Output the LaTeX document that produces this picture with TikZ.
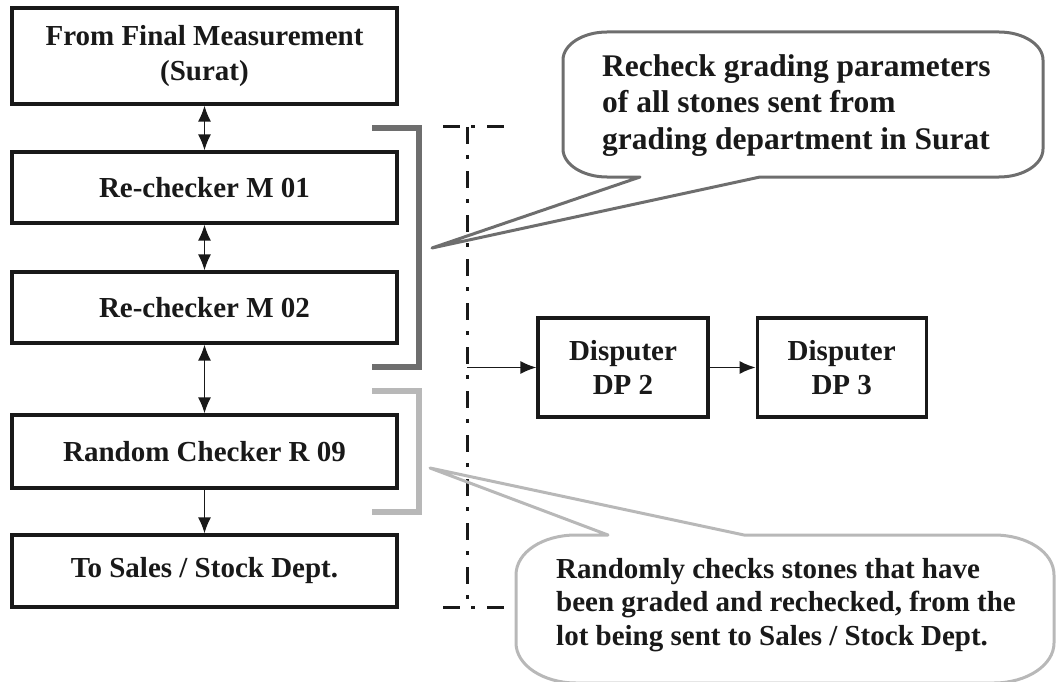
\documentclass[tikz,border=0pt]{standalone}
\usepackage{fontspec}
\setmainfont{Liberation Serif}
\usetikzlibrary{positioning,arrows.meta}
\definecolor{ink}{gray}{0.1}
\definecolor{darkbr}{gray}{0.43}
\definecolor{lightbr}{gray}{0.72}
\tikzset{box/.style={draw=ink,text=ink,line width=3.2pt,inner sep=0pt,align=center,font=\fontsize{29}{34.5}\selectfont\bfseries}}
\tikzset{link/.style={draw=ink,line width=1.5pt,arrows={-Latex[length=16pt,width=13pt]}}}
\tikzset{twoway/.style={draw=ink,line width=1.5pt,arrows={Latex[length=16pt,width=13pt]-Latex[length=16pt,width=13pt]}}}
\tikzset{bracket/.style={line width=6.5pt}}
\tikzset{callout/.style={line width=3pt,line join=round}}
\tikzset{dashdot/.style={draw=ink,line width=3pt,dash pattern=on 17pt off 11pt on 3.5pt off 12.5pt}}
\tikzset{note/.style={text=ink,align=left,inner sep=0pt,anchor=west}}

\begin{document}
\begin{tikzpicture}[x=1pt,y=-1pt]
  \useasboundingbox (0,0) rectangle (1060,682);
  \clip (0,0) rectangle (1060,682);
  % left column
  \node[box,minimum width=385pt,minimum height=96pt] (final) at (204.5,56) {From Final Measurement\\(Surat)};
  \node[box,minimum width=385pt,minimum height=71pt] (rcone) at (204.5,187.5) {Re-checker M 01};
  \node[box,minimum width=385pt,minimum height=71pt] (rctwo) at (204.5,307.5) {Re-checker M 02};
  \node[box,minimum width=385pt,minimum height=73pt] (random) at (204.5,451.5) {Random Checker R 09};
  \node[box,minimum width=385pt,minimum height=72pt] (sales) at (204.5,571) {To Sales / Stock Dept.};
  \draw[twoway] (final.south) -- (rcone.north);
  \draw[twoway] (rcone.south) -- (rctwo.north);
  \draw[twoway] (rctwo.south) -- (random.north);
  \draw[link] (random.south) -- (sales.north);
  % brackets
  \draw[bracket,darkbr] (372,128) -- (419,128) -- (419,367) -- (372,367);
  \draw[bracket,lightbr] (372,391) -- (419,391) -- (419,512) -- (372,512);
  % disputers
  \node[box,minimum width=170pt,minimum height=99pt] (dptwo) at (623,367.5) {Disputer\\DP 2};
  \node[box,minimum width=169pt,minimum height=99pt,right=46pt of dptwo] (dpthree) {Disputer\\DP 3};
  \coordinate (dtop) at (467,127);
  \coordinate (dbot) at (467,607);
  \coordinate (split) at (467,367.5);
  \draw[dashdot] (443,127) -- (507,127);
  \draw[dashdot] (dtop) -- (dbot);
  \draw[dashdot] (443,607) -- (507,607);
  \draw[link] (split) -- (dptwo.west);
  \draw[link] (dptwo.east) -- (dpthree.west);
  % callouts
  \draw[callout,darkbr] (760,177) -- (432,248) -- (640,177) -- (607,177)
    .. controls (583,177) and (563,164.5) .. (563,149) -- (563,60)
    .. controls (563,44.5) and (583,32) .. (607,32) -- (999,32)
    .. controls (1023,32) and (1043,44.5) .. (1043,60) -- (1043,149)
    .. controls (1043,164.5) and (1023,177) .. (999,177) -- cycle;
  \node[note,font=\fontsize{31.5}{36.5}\selectfont\bfseries] (recheck) at (602,105.5)
    {Recheck grading parameters\\of all stones sent from\\grading department in Surat};
  \draw[callout,lightbr] (744,535) -- (430,468) -- (608,535) -- (576,535)
    .. controls (543,535) and (516,552) .. (516,575) -- (516,643)
    .. controls (516,665) and (543,683) .. (576,683) -- (994,683)
    .. controls (1027,683) and (1054,665) .. (1054,643) -- (1054,575)
    .. controls (1054,552) and (1027,535) .. (994,535) -- cycle;
  \node[note,font=\fontsize{29}{33.5}\selectfont\bfseries] (randomly) at (556,605)
    {Randomly checks stones that have\\been graded and rechecked, from the\\lot being sent to Sales / Stock Dept.};
\end{tikzpicture}
\end{document}
